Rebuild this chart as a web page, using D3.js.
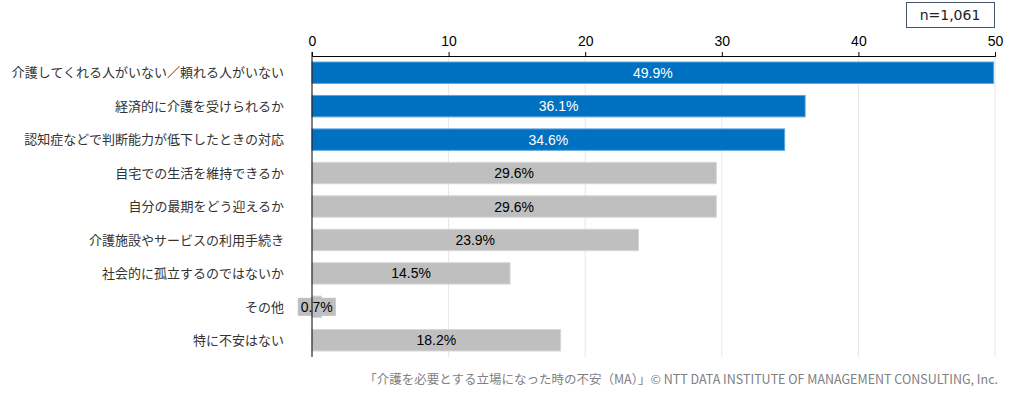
<!DOCTYPE html>
<html>
  <head>
    <meta charset="utf-8">
    <title>介護を必要とする立場になった時の不安</title>
    <script src="https://cdn.jsdelivr.net/npm/d3@7/dist/d3.min.js"></script>
    <style>
      body { margin: 0; background: #fff; }
      text { font-family: "Noto Sans CJK JP", "Noto Sans", sans-serif; }
    </style>
  </head>
  <body>
    <svg width="1023" height="393" id="mainsvg"></svg>
    <script>
        // data
        const categories = ['介護してくれる人がいない／頼れる人がいない', '経済的に介護を受けられるか',
          '認知症などで判断能力が低下したときの対応', '自宅での生活を維持できるか', '自分の最期をどう迎えるか',
          '介護施設やサービスの利用手続き', '社会的に孤立するのではないか', 'その他', '特に不安はない'];
        const values = [49.9, 36.1, 34.6, 29.6, 29.6, 23.9, 14.5, 0.7, 18.2];
        const highlighted = [true, true, true, false, false, false, false, false, false];
        const xTicks = [0, 10, 20, 30, 40, 50];
        const sampleLabel = 'n=1,061';
        const sourceLabel = '「介護を必要とする立場になった時の不安（MA）」© NTT DATA INSTITUTE OF MANAGEMENT CONSULTING, Inc.';

        const data = categories.map((c, i) => ({name: c, value: values[i], hi: highlighted[i]}));

        const svg = d3.select('#mainsvg');
        const margin = {top: 56, left: 312, right: 28, bottom: 36};
        const innerWidth = 1023 - margin.left - margin.right;
        const innerHeight = 357 - margin.top;

        const g = svg.append('g').attr('transform', `translate(${margin.left}, ${margin.top})`);

        const xScale = d3.scaleLinear().domain([0, 50]).range([0, innerWidth]);
        const yScale = d3.scaleBand().domain(categories).range([0, innerHeight]).paddingInner(0.36).paddingOuter(0.18);

        // gridlines
        g.selectAll('.grid').data(xTicks.slice(1)).join('line')
          .attr('x1', d => xScale(d)).attr('x2', d => xScale(d))
          .attr('y1', 0).attr('y2', innerHeight)
          .attr('stroke', '#e6e6e6').attr('stroke-width', 1);

        // bars
        g.selectAll('.bar').data(data).join('rect')
          .attr('x', 0)
          .attr('y', d => yScale(d.name))
          .attr('width', d => xScale(d.value))
          .attr('height', yScale.bandwidth())
          .attr('fill', d => d.hi ? '#0070C0' : '#BFBFBF')
          .attr('stroke', d => d.hi ? '#5aa6df' : '#d6d6d6')
          .attr('stroke-width', 1);

        // small-bar label background
        data.filter(d => d.value < 3).forEach(d => {
          const cx = xScale(d.value) / 2;
          g.append('rect')
            .attr('x', cx - 19).attr('y', yScale(d.name) + yScale.bandwidth() / 2 - 9)
            .attr('width', 38).attr('height', 18)
            .attr('fill', '#BFBFBF');
        });

        // left axis line
        g.append('line').attr('x1', 0).attr('x2', 0).attr('y1', -4).attr('y2', innerHeight)
          .attr('stroke', '#000').attr('stroke-width', 1);

        // value labels
        g.selectAll('.val').data(data).join('text')
          .attr('x', d => xScale(d.value) / 2)
          .attr('y', d => yScale(d.name) + yScale.bandwidth() / 2)
          .attr('dy', '0.36em')
          .attr('text-anchor', 'middle')
          .attr('font-size', 14)
          .attr('fill', d => d.hi ? '#ffffff' : '#000000')
          .style('font-family', '"Liberation Sans", Arial, sans-serif')
          .text(d => d.value.toFixed(1) + '%');

        // top axis
        const xAxis = d3.axisTop(xScale).tickValues(xTicks).tickSize(4).tickSizeOuter(4).tickPadding(6);
        const xg = g.append('g').call(xAxis);
        xg.select('.domain').attr('stroke', '#000');
        xg.selectAll('.tick line').attr('stroke', '#000');
        xg.selectAll('.tick text').attr('font-size', 14).attr('fill', '#000')
          .style('font-family', '"Liberation Sans", Arial, sans-serif');

        // category labels
        g.selectAll('.cat').data(data).join('text')
          .attr('x', -28)
          .attr('y', d => yScale(d.name) + yScale.bandwidth() / 2)
          .attr('dy', '0.36em')
          .attr('text-anchor', 'end')
          .attr('font-size', 13)
          .attr('fill', '#333')
          .text(d => d.name);

        // n box
        svg.append('rect').attr('x', 906.5).attr('y', 2.5).attr('width', 88).attr('height', 25)
          .attr('fill', '#fff').attr('stroke', '#44546A').attr('stroke-width', 1);
        svg.append('text').attr('x', 950).attr('y', 15).attr('dy', '0.36em')
          .attr('text-anchor', 'middle').attr('font-size', 14).attr('fill', '#222')
          .style('font-family', '"DejaVu Sans", sans-serif')
          .text(sampleLabel);

        // source
        svg.append('text').attr('x', 998).attr('y', 379).attr('dy', '0.36em')
          .attr('text-anchor', 'end').attr('font-size', 12.5).attr('fill', '#808080')
          .text(sourceLabel);
    </script>
  </body>
</html>
